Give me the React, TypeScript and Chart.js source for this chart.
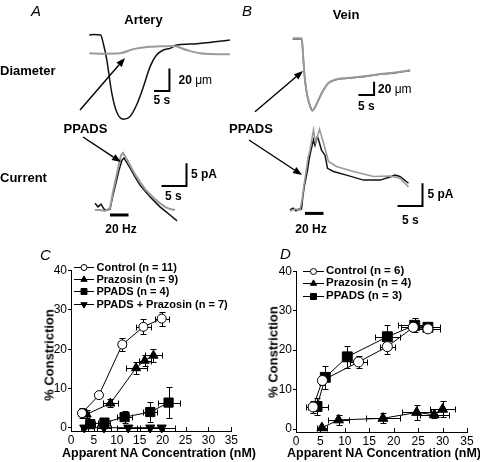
import React, { useEffect, useRef } from 'react';
import { Chart, registerables } from 'chart.js';

Chart.register(...registerables);

const FONT = "'Liberation Sans', Arial, Helvetica, sans-serif";
Chart.defaults.font.family = FONT;

type Pt = [number, number];

// ================= DATA =================
// Panel A – artery: diameter change (time s, µm)
const arteryDiameterControl: Pt[] = [[0, 0], [1.5, 0.5], [3.7, 0], [4.6, -8], [5.7, -22], [7.3, -51], [8.9, -68], [11.1, -74.6], [13.2, -72.3], [15.4, -62], [17.6, -46], [19.8, -28], [21.9, -17.7], [24.1, -13.3], [26.3, -11.8], [28.4, -8.8], [32.8, -8.0], [38.2, -6.8], [45.8, -4.4]];
const arteryDiameterPPADS: Pt[] = [[0, -16.2], [5, -16.5], [10, -16.2], [14.3, -12.5], [18.7, -10.6], [23, -10], [27.4, -9.7], [31.7, -13.3], [36.1, -16.2], [40, -16.8], [45.8, -17.1]];
// Panel A – artery: junction current (time s, pA)
const arteryCurrentControl: Pt[] = [[0, 1.5], [0.6, 0.7], [1.2, 1.3], [1.8, 0.2], [2.4, 0], [3, 0.2], [3.6, 3.3], [4.2, 6.0], [4.8, 8.8], [5.4, 11.0], [5.8, 11.5], [6.4, 10.4], [7, 9.3], [8, 7.3], [9, 5.5], [10, 4.2], [11, 2.9], [12, 1.8], [13, 0.7], [14, -0.2], [15, -1.1], [16, -2.0], [16.4, -2.4]];
const arteryCurrentPPADS: Pt[] = [[0, 0], [1, 0], [2, -0.2], [3, 0.4], [3.6, 4.0], [4.2, 7.1], [4.8, 10.2], [5.2, 12.1], [5.6, 12.6], [6.2, 11.5], [7, 9.9], [8, 7.9], [9, 6.2], [10, 4.6], [11, 3.5], [12, 2.4], [13, 1.5], [14, 0.7], [15, 0.2], [16, 0]];
// Panel B – vein: diameter change (time s, µm)
const veinDiameterControl: Pt[] = [[0, 0], [2.9, 0], [3.4, -31.5], [3.9, -61.5], [4.7, -86.5], [5.8, -104], [6.3, -107.5], [7.1, -102.4], [8.2, -91.5], [9.8, -76.5], [11.4, -66.4], [13.5, -61.5], [17.3, -58.9], [22.6, -56.5], [27.9, -52.9], [33.2, -50.5], [37.5, -47.5]];
const veinDiameterPPADS: Pt[] = [[0, 1], [2.9, 1], [3.4, -30], [3.9, -60], [4.7, -86], [5.8, -103], [6.3, -107], [7.1, -103], [8.2, -92], [9.8, -77], [11.4, -66], [13.5, -61], [17.3, -58.5], [22.6, -56], [27.9, -52.5], [33.2, -50], [37.5, -47]];
// Panel B – vein: junction current (time s, pA)
const veinCurrentControl: Pt[] = [[0, 0], [0.6, 0.4], [1.2, -0.2], [1.8, 0.2], [2.3, 0.2], [2.6, 3.3], [2.9, 5.5], [3.2, 7.1], [3.5, 8.8], [3.8, 11.0], [4.2, 13.2], [4.7, 15.5], [5.0, 14.3], [5.5, 16.2], [5.9, 14.8], [6.3, 13.2], [7.0, 12.1], [7.5, 9.2], [8.7, 8.5], [11.3, 7.7], [14.7, 6.6], [18, 6.6], [20, 7.3], [21, 7.7], [22, 7.4], [23.7, 5.9]];
const veinCurrentPPADS: Pt[] = [[0, -0.2], [1, 0.2], [2, 0], [2.4, 2.2], [2.8, 5.5], [3.2, 8.4], [3.6, 11.5], [4.0, 13.2], [4.7, 17.7], [5.1, 15.0], [5.4, 15.9], [5.9, 17.8], [6.7, 14.8], [7.7, 10.7], [9.3, 9.6], [12.7, 8.5], [16.7, 7.4], [20, 7.5], [22, 7.0], [23.7, 5.1]];

// Panel C – artery concentration/constriction
const axisTicksX = [0, 5, 10, 15, 20, 25, 30, 35];
const axisTicksY = [0, 10, 20, 30, 40];
const cSeriesNames = ['Control (n = 11)', 'Prazosin (n = 9)', 'PPADS (n = 4)', 'PPADS + Prazosin (n = 7)'];
const cControlX = [2.4, 6.1, 11.2, 15.8, 19.8];
const cControlY = [3.7, 8.3, 21.2, 25.7, 27.8];
const cControlXErr = [0.8, 0.5, 0.9, 1.65, 1.55];
const cControlYErr = [1.3, 0.6, 1.7, 1.9, 1.8];
const cPrazosinX = [3.4, 8.6, 14.2, 16.1, 18.0];
const cPrazosinY = [3.4, 6.2, 15.2, 17.1, 18.4];
const cPrazosinXErr = [0.6, 1.7, 2.3, 1.3, 1.8];
const cPrazosinYErr = [1.0, 1.0, 1.6, 1.5, 1.7];
const cPpadsX = [4.2, 7.3, 11.7, 17.3, 21.3];
const cPpadsY = [0.9, 1.3, 2.7, 4.0, 6.4];
const cPpadsXErr = [1.0, 1.3, 1.6, 1.5, 2.4];
const cPpadsYErr = [0.6, 0.8, 1.5, 2.5, 4.0];
const cBothX = [2.9, 7.2, 12.5, 17.3, 19.8];
const cBothY = [0, 0, 0, 0, 0];
const cBothXErr = [0.8, 1.5, 2.5, 3.0, 3.0];
const cBothYErr = [0, 0, 0, 0, 0];

// Panel D – vein concentration/constriction
const dSeriesNames = ['Control (n = 6)', 'Prazosin (n = 4)', 'PPADS (n = 3)'];
const dControlX = [3.5, 5.4, 12.8, 18.7, 24.0, 27.0];
const dControlY = [5.6, 12.3, 17.0, 20.9, 25.8, 25.4];
const dControlXErr = [1.0, 0.5, 1.8, 1.5, 2.5, 2.5];
const dControlYErr = [1.5, 1.2, 1.6, 2.0, 1.0, 0.8];
const dPrazosinX = [5.3, 8.7, 17.8, 24.7, 28.3, 30.0];
const dPrazosinY = [0.3, 2.3, 2.7, 4.2, 3.6, 5.0];
const dPrazosinXErr = [1.0, 2.2, 3.5, 3.0, 3.0, 2.5];
const dPrazosinYErr = [0.5, 1.2, 1.3, 1.8, 0.8, 2.0];
const dPpadsX = [4.3, 6.0, 10.5, 18.7, 24.3, 27.0];
const dPpadsY = [5.7, 13.1, 18.3, 23.4, 26.3, 25.8];
const dPpadsXErr = [2.3, 0.4, 0.5, 2.5, 3.5, 2.5];
const dPpadsYErr = [2.2, 3.0, 2.8, 3.0, 1.8, 0.8];

// Scale bars and stimulus bars (data units of each trace)
const arteryDiamScaleBar = { t: 21.1, v: -49.6, dt: 5, dv: 20 };
const arteryCurrScaleBar = { t: 13.3, v: 5.3, dt: 5, dv: 5 };
const veinDiamScaleBar = { t: 21.0, v: -84, dt: 5, dv: 20 };
const veinCurrScaleBar = { t: 21.5, v: 0.9, dt: 5, dv: 5 };
const arteryStim = { t0: 3, t1: 6.7, v: -1.1 };
const veinStim = { t0: 3, t1: 6.7, v: -0.75 };

// ================= LAYOUT =================
const BLACK = '#111';
const GREY = '#9a9a9a';

function axisFor(W: number, H: number, c: any) {
  return {
    x: { type: 'linear', display: false, min: -c.x0 / c.kx, max: (W - c.x0) / c.kx },
    y: { type: 'linear', display: false, min: (c.y0 - H) / c.ky, max: c.y0 / c.ky },
  };
}

function trace(pts: Pt[], id: string, color: string, width: number, smooth: boolean) {
  return {
    data: pts.map(([x, y]) => ({ x, y })),
    xAxisID: 'x' + id, yAxisID: 'y' + id,
    showLine: true, borderColor: color, borderWidth: width,
    pointRadius: 0, cubicInterpolationMode: smooth ? 'monotone' : 'default',
    tension: 0, clip: false, fill: false,
  };
}
function scaleBar(b: any, id: string) {
  return trace([[b.t, b.v], [b.t + b.dt, b.v], [b.t + b.dt, b.v + b.dv]], id, '#000', 2, false);
}
function stimBar(s: any, id: string) {
  return trace([[s.t0, s.v], [s.t1, s.v]], id, '#000', 3, false);
}

const arrowPlugin = {
  id: 'arrows',
  afterDraw(chart: any, _a: any, opts: any) {
    const ctx = chart.ctx;
    ctx.save();
    ctx.strokeStyle = '#000';
    ctx.fillStyle = '#000';
    ctx.lineWidth = 1.4;
    for (const [x1, y1, x2, y2] of opts.list || []) {
      const ang = Math.atan2(y2 - y1, x2 - x1);
      const hl = 9, hw = 3.5;
      const bx = x2 - Math.cos(ang) * hl, by = y2 - Math.sin(ang) * hl;
      ctx.beginPath();
      ctx.moveTo(x1, y1);
      ctx.lineTo(bx, by);
      ctx.stroke();
      ctx.beginPath();
      ctx.moveTo(x2, y2);
      ctx.lineTo(bx - Math.sin(ang) * hw, by + Math.cos(ang) * hw);
      ctx.lineTo(bx + Math.sin(ang) * hw, by - Math.cos(ang) * hw);
      ctx.closePath();
      ctx.fill();
    }
    ctx.restore();
  },
};

function traceConfig(W: number, H: number, cal: any, datasets: any[], arrows: number[][]) {
  const scales: any = {};
  for (const id of Object.keys(cal)) {
    const a = axisFor(W, H, cal[id]);
    scales['x' + id] = a.x;
    scales['y' + id] = a.y;
  }
  return {
    type: 'scatter',
    data: { datasets },
    options: {
      responsive: false, animation: false, devicePixelRatio: 1, events: [],
      layout: { padding: 0 },
      scales,
      plugins: { legend: { display: false }, tooltip: { enabled: false }, arrows: { list: arrows } },
    },
    plugins: [arrowPlugin],
  };
}

function drawMarker(ctx: any, style: string, x: number, y: number, r: number, fill: string, rot = 0) {
  ctx.beginPath();
  if (style === 'circle') ctx.arc(x, y, r, 0, Math.PI * 2);
  else if (style === 'rect') { const s = r * Math.SQRT1_2; ctx.rect(x - s, y - s, 2 * s, 2 * s); }
  else {
    for (let k = 0; k < 3; k++) {
      const a = (rot * Math.PI) / 180 + (k * 2 * Math.PI) / 3;
      const px = x + Math.sin(a) * r, py = y - Math.cos(a) * r;
      if (k === 0) ctx.moveTo(px, py); else ctx.lineTo(px, py);
    }
  }
  ctx.closePath();
  ctx.fillStyle = fill;
  ctx.fill();
  ctx.strokeStyle = '#000';
  ctx.lineWidth = 1;
  ctx.stroke();
}

const xyPlugin = {
  id: 'xyExtras',
  beforeDatasetsDraw(chart: any) {
    const ctx = chart.ctx, xs = chart.scales.x, ys = chart.scales.y;
    ctx.save();
    ctx.strokeStyle = '#000';
    ctx.lineWidth = 1;
    const cap = 3;
    chart.data.datasets.forEach((ds: any) => {
      const xe = ds.xErr || [], ye = ds.yErr || [];
      ds.data.forEach((p: any, i: number) => {
        const px = Math.round(xs.getPixelForValue(p.x)) + 0.5;
        const py = Math.round(ys.getPixelForValue(p.y)) + 0.5;
        ctx.beginPath();
        if (xe[i]) {
          const x1 = Math.round(xs.getPixelForValue(p.x - xe[i])) + 0.5;
          const x2 = Math.round(xs.getPixelForValue(p.x + xe[i])) + 0.5;
          ctx.moveTo(x1, py); ctx.lineTo(x2, py);
          ctx.moveTo(x1, py - cap); ctx.lineTo(x1, py + cap);
          ctx.moveTo(x2, py - cap); ctx.lineTo(x2, py + cap);
        }
        if (ye[i]) {
          const y1 = Math.round(ys.getPixelForValue(p.y - ye[i])) + 0.5;
          const y2 = Math.round(ys.getPixelForValue(p.y + ye[i])) + 0.5;
          ctx.moveTo(px, y1); ctx.lineTo(px, y2);
          ctx.moveTo(px - cap, y1); ctx.lineTo(px + cap, y1);
          ctx.moveTo(px - cap, y2); ctx.lineTo(px + cap, y2);
        }
        ctx.stroke();
      });
    });
    ctx.restore();
  },
  afterDraw(chart: any, _a: any, opts: any) {
    const ctx = chart.ctx, xs = chart.scales.x;
    const bottom = chart.chartArea.bottom;
    ctx.save();
    ctx.strokeStyle = '#000';
    ctx.lineWidth = 1;
    ctx.beginPath();
    for (const v of axisTicksX) {
      const px = Math.round(xs.getPixelForValue(v)) + 0.5;
      ctx.moveTo(px, bottom);
      ctx.lineTo(px, bottom - 4);
    }
    ctx.stroke();
    // legend samples
    const lg = opts.legend;
    if (lg) {
      lg.rows.forEach((r: any, i: number) => {
        const y = Math.round(lg.y0 + lg.dy * i) + 0.5;
        ctx.beginPath();
        ctx.moveTo(lg.x1, y); ctx.lineTo(lg.x2, y);
        ctx.strokeStyle = '#000'; ctx.lineWidth = 1;
        ctx.stroke();
        drawMarker(ctx, r.style, (lg.x1 + lg.x2) / 2, y, r.r, r.fill, r.rot || 0);
      });
    }
    ctx.restore();
  },
};

function series(xs: number[], ys: number[], xErr: number[], yErr: number[], style: string, r: number, fill: string, rot = 0) {
  return {
    data: xs.map((x, i) => ({ x, y: ys[i] })),
    xErr, yErr,
    showLine: true, borderColor: '#000', borderWidth: 1,
    pointStyle: style, pointRadius: r, pointRotation: rot,
    pointBackgroundColor: fill, pointBorderColor: '#000', pointBorderWidth: 1,
    clip: false, tension: 0,
  };
}

function xyConfig(datasets: any[], area: any, yMin: number, legend: any) {
  return {
    type: 'scatter',
    data: { datasets },
    options: {
      responsive: false, animation: false, devicePixelRatio: 1, events: [],
      layout: { padding: { top: area.top, right: area.right, left: 0, bottom: 0 } },
      scales: {
        x: {
          type: 'linear', min: 0, max: 35,
          afterBuildTicks: (s: any) => { s.ticks = axisTicksX.map((v) => ({ value: v })); },
          afterFit: (s: any) => { s.height = area.xh; },
          ticks: { color: '#000', font: { size: 12, family: FONT }, padding: 2, autoSkip: false, maxRotation: 0 },
          grid: { display: true, drawOnChartArea: false, drawTicks: false },
          border: { display: true, color: '#000', width: 1 },
        },
        y: {
          type: 'linear', min: yMin, max: 40,
          afterBuildTicks: (s: any) => { s.ticks = axisTicksY.map((v) => ({ value: v })); },
          afterFit: (s: any) => { s.width = area.yw; },
          ticks: { color: '#000', font: { size: 12, family: FONT }, padding: 1 },
          grid: { display: true, drawOnChartArea: false, drawTicks: true, tickLength: 3, color: '#000', lineWidth: 1 },
          border: { display: true, color: '#000', width: 1 },
        },
      },
      plugins: { legend: { display: false }, tooltip: { enabled: false }, xyExtras: { legend } },
    },
    plugins: [xyPlugin],
  };
}

function ChartBox({ left, top, width, height, make }: any) {
  const ref = useRef<HTMLCanvasElement>(null);
  useEffect(() => {
    const chart = new Chart(ref.current as HTMLCanvasElement, make());
    return () => chart.destroy();
  }, []);
  return <canvas ref={ref} width={width} height={height} style={{ position: 'absolute', left, top, width, height }} />;
}

function T({ x, y, children, size = 13, bold = true, italic = false, anchor = 'start', rotate = false }: any) {
  const tx = anchor === 'middle' ? '-50%' : anchor === 'end' ? '-100%' : '0';
  return (
    <div style={{
      position: 'absolute', left: x, top: y,
      transform: `translate(${tx},-50%)${rotate ? ' rotate(-90deg)' : ''}`,
      fontSize: size, fontWeight: bold ? 'bold' : 'normal', fontStyle: italic ? 'italic' : 'normal',
      lineHeight: 1, whiteSpace: 'nowrap', fontFamily: FONT, color: '#000',
    }}>{children}</div>
  );
}

const Um = () => (<><span>20 </span><span style={{ fontWeight: 'normal' }}>μm</span></>);

export default function App() {
  const makeA = () => traceConfig(240, 240,
    { d: { x0: 89.3, kx: 3.07, y0: 35, ky: 1.13 }, i: { x0: 95, kx: 5, y0: 210, ky: 4.53 } },
    [
      trace(arteryDiameterPPADS, 'd', GREY, 2, true),
      trace(arteryDiameterControl, 'd', BLACK, 1.5, true),
      trace(arteryCurrentPPADS, 'i', GREY, 2, false),
      trace(arteryCurrentControl, 'i', BLACK, 1.5, false),
      scaleBar(arteryDiamScaleBar, 'd'),
      scaleBar(arteryCurrScaleBar, 'i'),
      stimBar(arteryStim, 'i'),
    ],
    [[80, 110, 125, 58], [83, 137, 121, 162]]);

  const makeB = () => traceConfig(240, 240,
    { d: { x0: 52.7, kx: 3.13, y0: 39, ky: 0.667 }, i: { x0: 50, kx: 5, y0: 210, ky: 4.53 } },
    [
      trace(veinDiameterPPADS, 'd', GREY, 2, true),
      trace(veinDiameterControl, 'd', '#444', 1.5, true),
      trace(veinCurrentPPADS, 'i', GREY, 1.6, false),
      trace(veinCurrentControl, 'i', BLACK, 1.5, false),
      scaleBar(veinDiamScaleBar, 'd'),
      scaleBar(veinCurrScaleBar, 'i'),
      stimBar(veinStim, 'i'),
    ],
    [[15, 111.7, 63, 71], [9, 140, 62, 175]]);

  const makeC = () => xyConfig([
    series(cControlX, cControlY, cControlXErr, cControlYErr, 'circle', 4.5, '#fff'),
    series(cPrazosinX, cPrazosinY, cPrazosinXErr, cPrazosinYErr, 'triangle', 5.3, '#000'),
    series(cPpadsX, cPpadsY, cPpadsXErr, cPpadsYErr, 'rect', 6.5, '#000'),
    series(cBothX, cBothY, cBothXErr, cBothYErr, 'triangle', 5.3, '#000', 180),
  ], { top: 20.7, right: 7, xh: 31, yw: 71 }, -0.84, {
    x1: 74, x2: 94, y0: 16.5, dy: 12.4,
    rows: [
      { style: 'circle', r: 3, fill: '#fff' },
      { style: 'triangle', r: 3.6, fill: '#000' },
      { style: 'rect', r: 4.2, fill: '#000' },
      { style: 'triangle', r: 3.6, fill: '#000', rot: 180 },
    ],
  });

  const makeD = () => xyConfig([
    series(dControlX, dControlY, dControlXErr, dControlYErr, 'circle', 5, '#fff'),
    series(dPrazosinX, dPrazosinY, dPrazosinXErr, dPrazosinYErr, 'triangle', 5.8, '#000'),
    series(dPpadsX, dPpadsY, dPpadsXErr, dPpadsYErr, 'rect', 7, '#000'),
  ], { top: 21.3, right: 13, xh: 30, yw: 56 }, -0.76, {
    x1: 63, x2: 84, y0: 20.7, dy: 12.7,
    rows: [
      { style: 'circle', r: 3, fill: '#fff' },
      { style: 'triangle', r: 3.6, fill: '#000' },
      { style: 'rect', r: 4.2, fill: '#000' },
    ],
  });

  return (
    <div style={{ position: 'absolute', left: 0, top: 0, width: 480, height: 462, background: '#fff', overflow: 'hidden', fontFamily: FONT }}>
      <ChartBox left={0} top={0} width={240} height={240} make={makeA} />
      <ChartBox left={240} top={0} width={240} height={240} make={makeB} />
      <ChartBox left={0} top={250} width={240} height={212} make={makeC} />
      <ChartBox left={240} top={250} width={240} height={212} make={makeD} />

      {/* Panel A */}
      <T x={31} y={10} size={15} bold={false} italic>A</T>
      <T x={143.5} y={18.5} anchor="middle">Artery</T>
      <T x={0} y={69.5}>Diameter</T>
      <T x={0} y={177}>Current</T>
      <T x={85.5} y={128} anchor="middle">PPADS</T>
      <T x={178.5} y={79.5} size={12}><Um /></T>
      <T x={153.5} y={100} size={12}>5 s</T>
      <T x={191} y={173.5} size={12}>5 pA</T>
      <T x={165} y={195.5} size={12}>5 s</T>
      <T x={121} y={229} size={12} anchor="middle">20 Hz</T>

      {/* Panel B */}
      <T x={242} y={10} size={15} bold={false} italic>B</T>
      <T x={346} y={14} anchor="middle">Vein</T>
      <T x={251} y={128} anchor="middle">PPADS</T>
      <T x={378} y={89} size={12}><Um /></T>
      <T x={358} y={106} size={12}>5 s</T>
      <T x={427.5} y={194} size={12}>5 pA</T>
      <T x={402} y={220} size={12}>5 s</T>
      <T x={311} y={229} size={12} anchor="middle">20 Hz</T>

      {/* Panel C */}
      <T x={40} y={254} size={15} bold={false} italic>C</T>
      <T x={49} y={355} size={13} anchor="middle" rotate>% Constriction</T>
      <T x={159} y={452.5} size={12.5} anchor="middle">Apparent NA Concentration (nM)</T>
      {cSeriesNames.map((n, i) => (
        <T key={n} x={96.5} y={266.5 + 12.4 * i} size={11}>{n}</T>
      ))}

      {/* Panel D */}
      <T x={280} y={253} size={15} bold={false} italic>D</T>
      <T x={272.5} y={352} size={13} anchor="middle" rotate>% Constriction</T>
      <T x={384} y={452.5} size={12.5} anchor="middle">Apparent NA Concentration (nM)</T>
      {dSeriesNames.map((n, i) => (
        <T key={n} x={326} y={270.7 + 12.7 * i} size={11.5}>{n}</T>
      ))}
    </div>
  );
}
